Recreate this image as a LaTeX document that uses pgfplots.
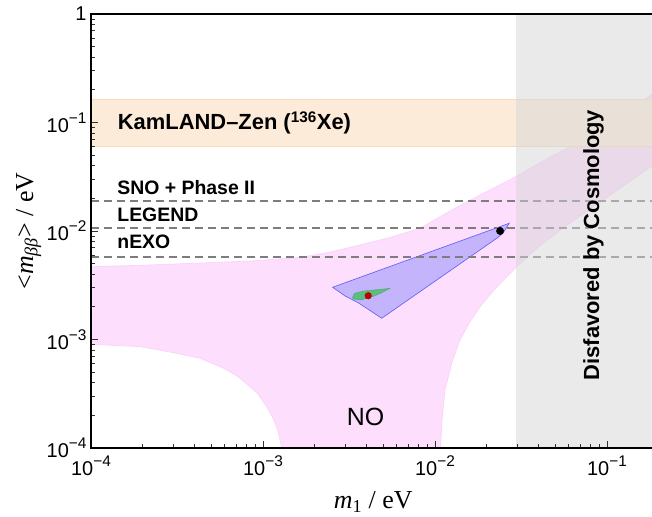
\documentclass[border=0pt]{standalone}
\usepackage{fontspec}
\setmainfont{Liberation Sans}
\newfontfamily\timesfont{Liberation Serif}
\usepackage{pgfplots}
\pgfplotsset{compat=1.18}
\definecolor{pinkNO}{RGB}{253,222,253}
\definecolor{pinkedge}{RGB}{250,208,250}
\definecolor{kzfill}{RGB}{253,235,217}
\definecolor{kzedge}{RGB}{250,218,188}
\definecolor{blfill}{RGB}{196,180,252}
\definecolor{bledge}{RGB}{90,90,250}
\definecolor{grfill}{RGB}{80,190,115}
\definecolor{reddot}{RGB}{195,0,0}
\definecolor{cosgray}{RGB}{214,214,214}
\definecolor{dashgray}{RGB}{125,125,125}
\newcommand{\tl}[1]{10\raisebox{0.45em}{\fontsize{15.5}{15.5}\selectfont −#1}}
\begin{document}
\begin{tikzpicture}
\begin{axis}[
  scale only axis, width=567.8bp, height=434bp,
  xmode=log, ymode=log,
  xmin=1e-4, xmax=0.2, ymin=1e-4, ymax=1,
  axis on top,
  axis line style={line width=1.2bp, black},
  tick align=inside, xtick pos=bottom, ytick pos=left,
  major tick length=7bp, minor tick length=4.5bp,
  every tick/.style={line width=0.9bp, black!80},
  xtick={1e-4,1e-3,1e-2,1e-1},
  xticklabels={\tl{4},\tl{3},\tl{2},\tl{1}},
  ytick={1e-4,1e-3,1e-2,1e-1,1},
  yticklabels={\tl{4},\tl{3},\tl{2},\tl{1},1},
  tick label style={font=\fontsize{20}{20}\selectfont},
  xticklabel style={yshift=-4bp},
  yticklabel style={xshift=-1bp},
  xlabel={{\timesfont\fontsize{26}{26}\selectfont\textit{m}\textsubscript{1} / eV}},
  ylabel={{\timesfont\fontsize{26}{26}\selectfont <\textit{m}\textsubscript{\textit{ββ}}> / eV}},
  xlabel style={at={(axis description cs:0.497,-0.124)}, anchor=center},
  ylabel style={at={(axis description cs:-0.11,0.5)}, anchor=center},
]
% NO region
\addplot[fill=pinkNO, draw=pinkedge, line width=0.6bp] coordinates {
(8.6e-5,4.68e-3) (1e-4,4.69e-3) (2.2e-4,4.86e-3) (4.31e-4,5.07e-3) (8.4e-4,5.29e-3)
(1.64e-3,5.70e-3) (2.46e-3,6.40e-3) (3.66e-3,7.43e-3) (5.47e-3,8.71e-3) (8.18e-3,0.0106)
(0.01222,0.01529) (0.01828,0.0215) (0.02836,0.0306) (0.0467,0.0481) (0.0697,0.0665)
(0.1191,0.1148) (0.2032,0.2037) (0.25,0.25) (0.25,0.056) (0.2032,0.0447)
(0.0910,0.0184) (0.0534,0.0102) (0.0381,6.68e-3) (0.02985,4.69e-3) (0.0261,3.79e-3)
(0.0220,2.86e-3) (0.01828,2.00e-3) (0.01595,1.45e-3) (0.01396,9.89e-4) (0.01256,6.21e-4)
(0.01143,3.42e-4) (0.01099,1.81e-4) (0.01076,1e-4) (0.0107,6e-5)
(1.28e-3,6e-5) (1.285e-3,1e-4) (1.238e-3,1.32e-4) (1.20e-3,1.57e-4) (1.127e-3,1.97e-4)
(1.051e-3,2.40e-4) (9.35e-4,3.15e-4) (8.40e-4,3.67e-4) (7.07e-4,4.61e-4) (5.87e-4,5.46e-4)
(4.31e-4,6.71e-4) (2.88e-4,7.67e-4) (1.93e-4,8.59e-4) (1e-4,9.03e-4) (8.6e-5,9.05e-4)
} -- cycle;
% KamLAND-Zen band
\addplot[fill=kzfill, draw=kzedge, line width=0.8bp] coordinates {
(5e-5,0.06) (0.3,0.06) (0.3,0.165) (5e-5,0.165)} -- cycle;
% blue region
\addplot[fill=blfill, draw=bledge, line width=0.6bp] coordinates {
(2.54e-3,3.03e-3) (0.0270,0.01178) (0.0248,9.52e-3) (0.02286,8.57e-3)
(4.90e-3,1.57e-3) (3.58e-3,2.18e-3) (3.00e-3,2.52e-3)} -- cycle;
% green region
\addplot[fill=grfill, draw=grfill!85!black, line width=0.3bp, fill opacity=0.9] coordinates {
(3.31e-3,2.43e-3) (3.41e-3,2.67e-3) (3.86e-3,2.80e-3) (5.47e-3,2.96e-3)
(4.83e-3,2.67e-3) (4.33e-3,2.48e-3) (3.70e-3,2.31e-3) (3.36e-3,2.36e-3)} -- cycle;
% future sensitivities
\addplot[dashgray, line width=2bp, dash pattern=on 8.5bp off 4.5bp] coordinates {(1e-4,0.019) (0.3,0.019)};
\addplot[dashgray, line width=2bp, dash pattern=on 8.5bp off 4.5bp] coordinates {(1e-4,0.0107) (0.3,0.0107)};
\addplot[dashgray, line width=2bp, dash pattern=on 8.5bp off 4.5bp] coordinates {(1e-4,0.0057) (0.3,0.0057)};
% best fit points
\addplot[only marks, mark=*, mark size=3.7bp, black] coordinates {(0.0239,0.0100)};
\addplot[only marks, mark=*, mark size=3.3bp, reddot, mark options={draw=reddot!80!black}] coordinates {(4.09e-3,2.53e-3)};
% cosmology
\addplot[fill=cosgray, draw=none, fill opacity=0.5] coordinates {
(0.0296,5e-5) (0.3,5e-5) (0.3,2) (0.0296,2)} -- cycle;
% texts
\node[anchor=west, inner sep=0pt, font=\bfseries\fontsize{22}{22}\selectfont] at (axis cs:1.43e-4,0.099) {KamLAND–Zen (\textsuperscript{136}Xe)};
\node[anchor=west, inner sep=0pt, font=\bfseries\fontsize{19.5}{19.5}\selectfont] at (axis cs:1.42e-4,0.0249) {SNO + Phase II};
\node[anchor=west, inner sep=0pt, font=\bfseries\fontsize{19.5}{19.5}\selectfont] at (axis cs:1.42e-4,0.0140) {LEGEND};
\node[anchor=west, inner sep=0pt, font=\bfseries\fontsize{19.5}{19.5}\selectfont] at (axis cs:1.42e-4,7.92e-3) {nEXO};
\node[font=\fontsize{25}{25}\selectfont] at (axis cs:3.95e-3,1.94e-4) {NO};
\node[rotate=90, font=\bfseries\fontsize{22}{22}\selectfont] at (axis cs:0.0835,7.43e-3) {Disfavored by Cosmology};
\end{axis}
\pgfresetboundingbox
\path[use as bounding box] (-91bp,-69bp) rectangle (561bp,448bp);
\end{tikzpicture}
\end{document}
